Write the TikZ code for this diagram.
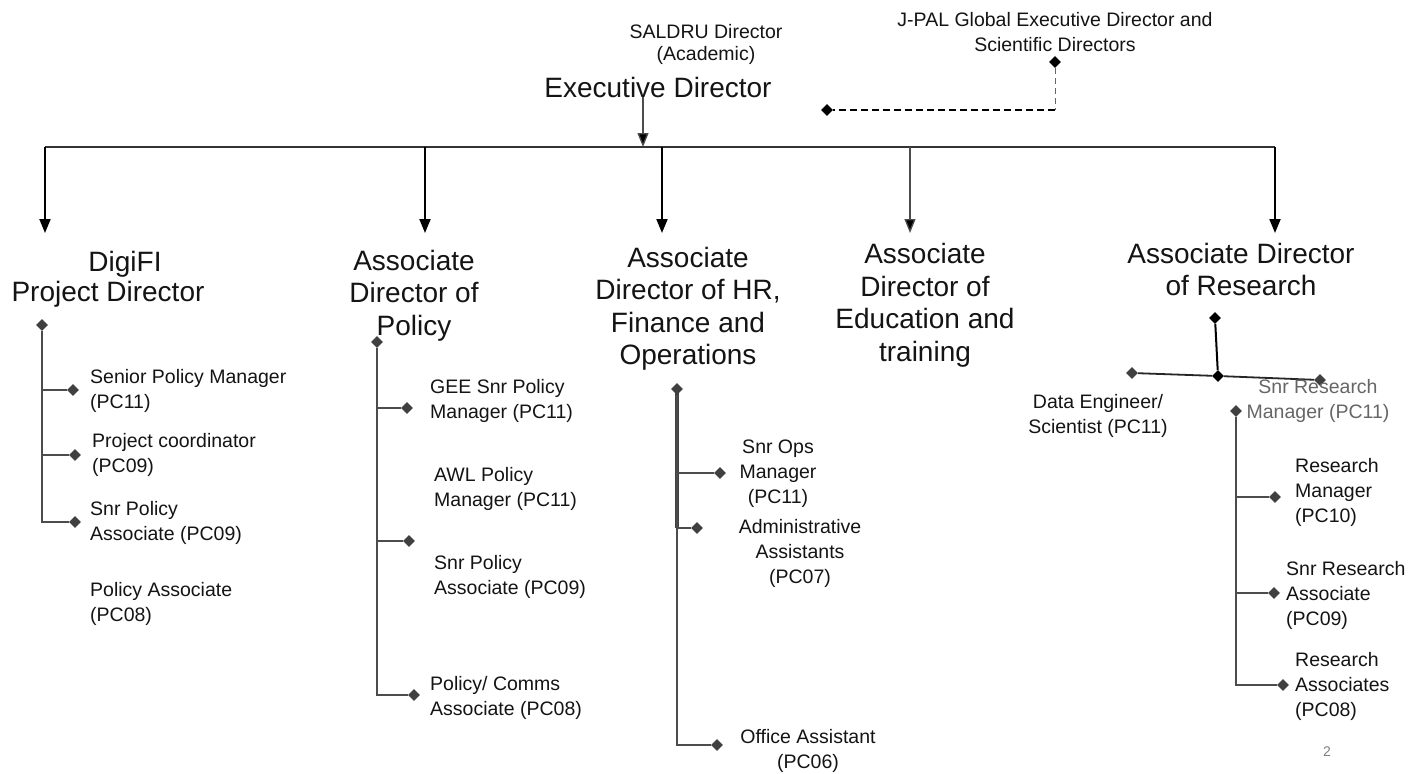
\documentclass[tikz,border=0pt]{standalone}
\usepackage{fontspec}
\setmainfont{Liberation Sans}
\usetikzlibrary{shapes.geometric,arrows.meta}
\begin{document}
\begin{tikzpicture}[x=1pt,y=-1pt,
  hdr/.style={align=center,font=\fontsize{28}{32.5}\selectfont,inner sep=0pt,text=black!92},
  sm/.style={font=\fontsize{19.5}{25}\selectfont,inner sep=0pt,text=black!92},
  item/.style={sm,align=left,anchor=west},
  citem/.style={sm,align=center},
  dia/.style={diamond,fill=black!75,inner sep=0pt,minimum size=12pt},
  bdia/.style={dia,fill=black},
  tree/.style={draw=black!70,line width=1.5pt},
  bar/.style={draw=black!80,line width=1.6pt},
  arr/.style={line width=2pt,draw=black,-{Triangle[width=11pt,length=14pt]}},
  arrthin/.style={line width=1.3pt,draw=black!70,-{Triangle[width=11pt,length=14pt,fill=black]}},
]
\useasboundingbox[fill=white] (0,0) rectangle (1425,774);

% ---------- top ----------
\node[hdr] (ed) at (658,87) {Executive Director};
\node[citem,font=\fontsize{19.5}{22}\selectfont] (saldru) at (706,44) {SALDRU Director\\(Academic)};
\node[citem] (jpal) at (1055,32.5) {J-PAL Global Executive Director and\\Scientific Directors};
\node[bdia] (jdia) at (1055,62) {};
\node[bdia] (jldia) at (827,110) {};
\coordinate (jcorner) at (1055,110);
\draw[draw=black!60,line width=1pt,dash pattern=on 6pt off 4pt] (jdia) -- (jcorner);
\draw[draw=black,line width=1.8pt,dash pattern=on 7pt off 4pt] (jcorner) -- (jldia);

% ---------- bar ----------
\coordinate (b1) at (45,147);
\coordinate (b2) at (425,147);
\coordinate (b3) at (662,147);
\coordinate (b4) at (910,147);
\coordinate (b5) at (1275,147);
\coordinate (edbar) at (643,147);
\draw[bar] (b1) -- (b5);
\draw[arrthin] (ed.south -| edbar) -- (edbar);
\coordinate (e1) at (45,233);
\coordinate (e2) at (425,233);
\coordinate (e3) at (662,233);
\coordinate (e4) at (910,233);
\coordinate (e5) at (1275,233);
\draw[arr] (b1) -- (e1);
\draw[arr] (b2) -- (e2);
\draw[arr] (b3) -- (e3);
\draw[arrthin] (b4) -- (e4);
\draw[arr] (b5) -- (e5);

% ---------- headers ----------
\node[hdr,font=\fontsize{28}{29.5}\selectfont] (h1) at (108,279.5) {\hspace*{34pt}DigiFI\\Project Director};
\node[hdr] (h2) at (414,295.5) {Associate\\Director of\\Policy};
\node[hdr] (h3) at (688,309) {Associate\\Director of HR,\\Finance and\\Operations};
\node[hdr] (h4) at (925,305.5) {Associate\\Director of\\Education and\\training};
\node[hdr] (h5) at (1241,269.5) {Associate Director\\of Research};

% ---------- DigiFI column ----------
\node[dia] (d1) at (42,325) {};
\node[dia] (d1a) at (73,390) {};
\node[dia] (d1b) at (75,455) {};
\node[dia] (d1c) at (75,522) {};
\draw[tree] (d1) |- (d1a);
\draw[tree] (d1) |- (d1b);
\draw[tree] (d1) |- (d1c);
\node[item] (t1a) at (90,390.5) {Senior Policy Manager\\(PC11)};
\node[item] (t1b) at (92,454.5) {Project coordinator\\(PC09)};
\node[item] (t1c) at (90,523) {Snr Policy\\Associate (PC09)};
\node[item] (t1d) at (90,603.5) {Policy Associate\\(PC08)};

% ---------- Policy column ----------
\node[dia] (d2) at (377,342) {};
\node[dia] (d2a) at (407,408) {};
\node[dia] (d2b) at (409,541) {};
\node[dia] (d2c) at (414,695) {};
\draw[tree] (d2) |- (d2a);
\draw[tree] (d2) |- (d2b);
\draw[tree] (d2) |- (d2c);
\node[item] (t2a) at (430,401) {GEE Snr Policy\\Manager (PC11)};
\node[item] (t2b) at (434,489) {AWL Policy\\Manager (PC11)};
\node[item] (t2c) at (434,577) {Snr Policy\\Associate (PC09)};
\node[item] (t2d) at (430,697.5) {Policy/ Comms\\Associate (PC08)};

% ---------- HR column ----------
\node[dia] (d3) at (677,389) {};
\coordinate (d3m) at (677,528);
\node[dia] (d3a) at (720,473) {};
\node[dia] (d3b) at (697,528) {};
\node[dia] (d3c) at (717,745) {};
\draw[draw=black!75,line width=4pt] (d3.center) -- (d3m);
\draw[tree] (d3) |- (d3a);
\draw[tree] (d3) |- (d3b);
\draw[tree] (d3) |- (d3c);
\node[citem] (t3a) at (778,474) {Snr Ops\\Manager\\(PC11)};
\node[citem] (t3b) at (800,553.5) {Administrative\\Assistants\\(PC07)};
\node[citem] (t3c) at (808,751) {Office Assistant\\(PC06)};

% ---------- Research column ----------
\node[bdia] (d5) at (1215,318) {};
\node[bdia] (d5m) at (1218,376) {};
\node[dia] (d5l) at (1132,373) {};
\node[dia] (d5r) at (1320,380) {};
\draw[draw=black,line width=2pt] (d5) -- (d5m);
\draw[draw=black!85,line width=1.8pt] (d5l) -- (d5m) -- (d5r);
\node[citem] (t5de) at (1098,415.5) {Data Engineer/\\Scientist (PC11)};
\node[citem,text=black!60] (t5srm) at (1318,400.5) {Snr Research\\Manager (PC11)};
\node[dia] (d6) at (1236,411) {};
\node[dia] (d6a) at (1275,497) {};
\node[dia] (d6b) at (1274,593) {};
\node[dia] (d6c) at (1283,685) {};
\draw[tree] (d6) |- (d6a);
\draw[tree] (d6) |- (d6b);
\draw[tree] (d6) |- (d6c);
\node[item] (t6a) at (1295,492) {Research\\Manager\\(PC10)};
\node[item] (t6b) at (1286,595.5) {Snr Research\\Associate\\(PC09)};
\node[item] (t6c) at (1295,686) {Research\\Associates\\(PC08)};

\node[font=\fontsize{14}{16}\selectfont,text=black!50,inner sep=0pt] (pg) at (1327,752) {2};
\end{tikzpicture}
\end{document}
